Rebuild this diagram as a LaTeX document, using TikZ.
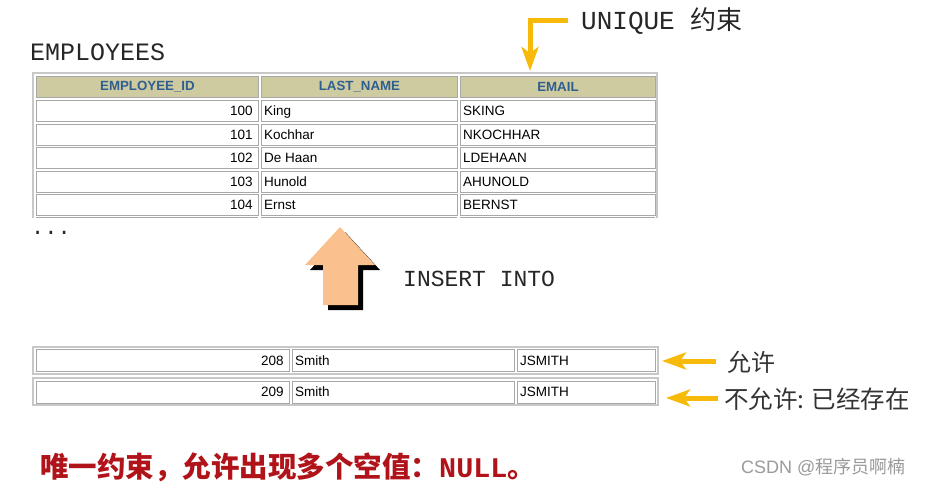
\documentclass[tikz,border=0pt]{standalone}
\usepackage{fontspec}
\setmainfont{Liberation Sans}
\setmonofont{Liberation Mono}
\newfontfamily\cjk{Noto Sans CJK SC}
\usetikzlibrary{arrows.meta}
\definecolor{hdrfill}{HTML}{CFCBA0}
\definecolor{hdrtext}{HTML}{2F5F8F}
\definecolor{cellline}{HTML}{A8A8A8}
\definecolor{frameline}{HTML}{C8C8C8}
\definecolor{gold}{HTML}{F7BA0B}
\definecolor{peach}{HTML}{FAC08E}
\definecolor{darkred}{HTML}{B0141A}
\definecolor{wmgray}{HTML}{9A9A9A}
\tikzset{
  cellbox/.style={draw=cellline, line width=0.9pt, fill=white, inner sep=0pt, anchor=north west},
  hdrbox/.style={draw=cellline, line width=0.9pt, fill=hdrfill, inner sep=0pt, anchor=north west,
    font=\fontsize{13.3}{15}\selectfont\bfseries, text=hdrtext},
  datatxt/.style={inner sep=0pt, font=\fontsize{13.5}{15}\selectfont, text=black},
  monotxt/.style={inner sep=0pt, anchor=west, font=\fontsize{25}{28}\ttfamily, text=black!85},
  frameline/.style={draw=frameline, line width=1.6pt},
  yarrow/.style={draw=gold, line width=5pt, line join=miter,
    -{Stealth[length=24pt, width=17pt, inset=6pt]}},
}
\begin{document}
\begin{tikzpicture}[x=1pt, y=-1pt]
\useasboundingbox (0,0) rectangle (927,488);

% ---------- labels ----------
\node[monotxt] (emp) at (30,52) {EMPLOYEES};
\node[monotxt, font=\fontsize{26}{28}\ttfamily] (uniq) at (581,21) {UNIQUE \cjk 约束};
\node[monotxt, font=\fontsize{22}{24}\ttfamily] (dots) at (31,233) {...};

% ---------- table frame ----------
\draw[frameline] (33,218) -- (33,73) -- (657,73) -- (657,218);

% header
\node[hdrbox, minimum width=222pt, minimum height=21pt] (h1) at (36,76) {EMPLOYEE\_ID};
\node[hdrbox, minimum width=196pt, minimum height=21pt] (h2) at (261,76) {LAST\_NAME};
\node[hdrbox, minimum width=195pt, minimum height=21pt] (h3) at (460,76) {EMAIL};

% data rows
\foreach \i/\id/\nm/\em in {0/100/King/SKING, 1/101/Kochhar/NKOCHHAR, 2/102/De Haan/LDEHAAN, 3/103/Hunold/AHUNOLD, 4/104/Ernst/BERNST}{
  \pgfmathsetmacro{\ytop}{100+23.5*\i}
  \node[cellbox, minimum width=222pt, minimum height=21pt] (c1r\i) at (36,\ytop) {};
  \node[cellbox, minimum width=196pt, minimum height=21pt] (c2r\i) at (261,\ytop) {};
  \node[cellbox, minimum width=195pt, minimum height=21pt] (c3r\i) at (460,\ytop) {};
  \node[datatxt, anchor=base east] (t1r\i) at ([xshift=-6pt,yshift=-5pt]c1r\i.east) {\id};
  \node[datatxt, anchor=base west] (t2r\i) at ([xshift=3pt,yshift=-5pt]c2r\i.west) {\nm};
  \node[datatxt, anchor=base west] (t3r\i) at ([xshift=3pt,yshift=-5pt]c3r\i.west) {\em};
}
% top of next (cut) row
\draw[draw=cellline, line width=0.9pt] (36,217.5) -- (258,217.5) (261,217.5) -- (457,217.5) (460,217.5) -- (655,217.5);

% ---------- up arrow ----------
\fill[black, shift={(5,5)}] (340,227) -- (375,265) -- (358,265) -- (358,305) -- (323,305) -- (323,265) -- (305,265) -- cycle;
\fill[peach] (340,227) -- (375,265) -- (358,265) -- (358,305) -- (323,305) -- (323,265) -- (305,265) -- cycle;
\node[monotxt, font=\fontsize{23}{25}\ttfamily] (ins) at (403,279) {INSERT INTO};

% ---------- new rows ----------
\draw[frameline] (33,374) -- (33,347) -- (658,347) -- (658,374) -- cycle;
\draw[frameline] (33,405) -- (33,378) -- (658,378) -- (658,405) -- cycle;
\foreach \i/\id/\ytop in {a/208/349, b/209/380.5}{
  \node[cellbox, minimum width=253pt, minimum height=22pt] (n1\i) at (36,\ytop) {};
  \node[cellbox, minimum width=222pt, minimum height=22pt] (n2\i) at (292,\ytop) {};
  \node[cellbox, minimum width=138pt, minimum height=22pt] (n3\i) at (517,\ytop) {};
  \node[datatxt, anchor=base east] (m1\i) at ([xshift=-6pt,yshift=-5pt]n1\i.east) {\id};
  \node[datatxt, anchor=base west] (m2\i) at ([xshift=3pt,yshift=-5pt]n2\i.west) {Smith};
  \node[datatxt, anchor=base west] (m3\i) at ([xshift=3pt,yshift=-5pt]n3\i.west) {JSMITH};
}

% ---------- right labels & arrows ----------
\node[inner sep=0pt, anchor=west, font=\fontsize{24}{26}\cjk, text=black!80] (allow) at (727,362) {允许};
\node[inner sep=0pt, anchor=west, font=\fontsize{24.5}{26}\cjk, text=black!80] (deny) at (724,399) {不允许: 已经存在};

\coordinate (a1s) at (716,361);
\coordinate (a1e) at (662,361);
\coordinate (a2s) at (718,398);
\coordinate (a2e) at (666,398);
\draw[yarrow] (a1s) -- (a1e);
\draw[yarrow] (a2s) -- (a2e);

% top bent arrow
\coordinate (u0) at (568,20);
\coordinate (u1) at (530,20);
\coordinate (u2) at (530,71);
\draw[yarrow] (u0) -- (u1) -- (u2);

% ---------- bottom notes ----------
\node[inner sep=0pt, anchor=west, text=darkred, font=\fontsize{28.5}{31}\selectfont] (note) at (40,467)
  {\cjk\bfseries 唯一约束，允许出现多个空值：\ttfamily\bfseries NULL\cjk\bfseries 。};
\node[inner sep=0pt, anchor=west, text=wmgray, font=\fontsize{18}{20}\selectfont] (wm) at (741,467)
  {CSDN @\cjk 程序员啊楠};
\end{tikzpicture}
\end{document}
